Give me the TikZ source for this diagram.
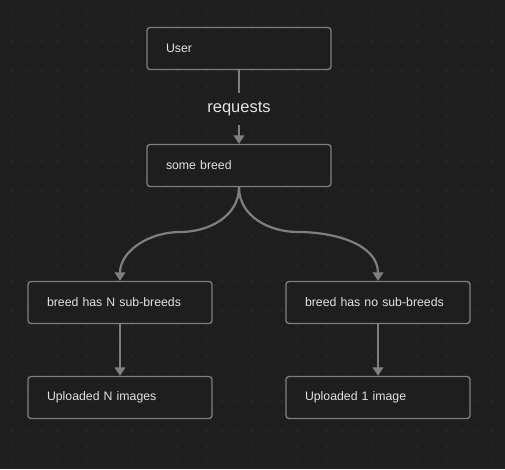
\documentclass[tikz,border=0pt]{standalone}
\usepackage{fontspec}
\setmainfont{Liberation Sans}
\usepackage{tikz}
\usetikzlibrary{arrows.meta}

\definecolor{bg}{HTML}{1E1E1E}
\definecolor{griddot}{HTML}{2F2F2F}
\definecolor{edge}{HTML}{7F7F7F}
\definecolor{label}{HTML}{E2E2E2}

\tikzset{
  box/.style={draw=edge, line width=1.3pt, rounded corners=3pt, fill=bg,
    minimum width=184pt, minimum height=42pt, text width=146pt,
    inner xsep=19pt, align=left, text=label, font=\fontsize{12.3}{14}\selectfont},
  link/.style={draw=edge, line width=2.2pt, -{Triangle[length=8.5pt,width=10.5pt]}}
}

\begin{document}
\begin{tikzpicture}[x=1pt,y=-1pt]
        % background and dot grid
        \fill[bg] (0,0) rectangle (505,469);
        \useasboundingbox (0,0) rectangle (505,469);
        \foreach \i in {0,...,33}
          \foreach \j in {0,...,30}
            \fill[griddot] (12+15*\i,11+15*\j) circle (0.8pt);

        \node[box] (user) at (239,48.5) {User};
        \node[box] (breed) at (239,165.5) {some breed};
        \node[box] (hasN) at (120,302.5) {breed has N sub-breeds};
        \node[box] (hasNone) at (378,302.5) {breed has no sub-breeds};
        \node[box] (upN) at (120,397.5) {Uploaded N images};
        \node[box] (upOne) at (378,397.5) {Uploaded 1 image};

        \coordinate (splitL) at (180,232);
        \coordinate (splitR) at (298,232);

        \draw[link] (user) -- node[pos=0.53, fill=bg, text=label, inner xsep=2pt, inner ysep=9pt,
            font=\fontsize{16.5}{18}\selectfont]{requests} (breed);

        \draw[link] (breed.south) to[out=-90,in=0] (splitL) to[out=180,in=90] (hasN.north);
        \draw[link] (breed.south) to[out=-90,in=180] (splitR) to[out=0,in=90] (hasNone.north);

        \draw[link] (hasN) -- (upN);
        \draw[link] (hasNone) -- (upOne);
    \end{tikzpicture}
\end{document}
